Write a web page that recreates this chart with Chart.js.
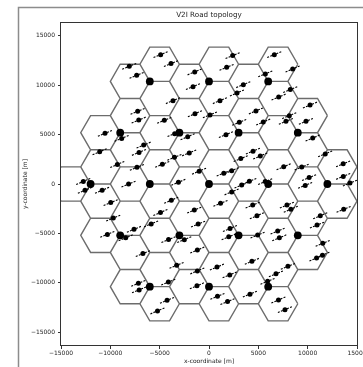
<!DOCTYPE html>
<html>
<head>
<meta charset="utf-8">
<script src="https://cdn.jsdelivr.net/npm/chart.js@4.4.1/dist/chart.umd.min.js"></script>
<style>
html, body { margin: 0; padding: 0; background: #fff; }
#wrap { position: relative; width: 363px; height: 367px; }
</style>
</head>
<body>
<div id="wrap"><canvas id="c" width="363" height="367"></canvas></div>
<script>
// Base station sites (tri-sector), metres
const siteX = [-12000, -6000, 0, 6000, 12000,
               -9000, -3000, 3000, 9000,
               -9000, -3000, 3000, 9000,
               -6000, 0, 6000,
               -6000, 0, 6000];
const siteY = [0, 0, 0, 0, 0,
               5196, 5196, 5196, 5196,
               -5196, -5196, -5196, -5196,
               10392, 10392, 10392,
               -10392, -10392, -10392];
// Sector boresight angles (deg) and hexagonal cell radius (m)
const sectorAngles = [60, 180, 300];
const cellRadius = 2000;

// Vehicle positions, metres
const vehicleX = [
  -4900, -3850, -8080, -7330, -1450, -1620, 2400, 1790, 6620, 8480,
  5710, 3480, 2840, 1110, 8240, 7060, 10240, -3650,
  -7230, -7120, -4530, -1420, 100, 4760, 5500, 3070, 8140, 7800,
  9830, -10540, -8850, -3480, -2160, 1720, 10510, -6620, -7090, -11080,
  -3500, -2000, 4460, 5200, 3220, 11780, 13600,
  -9290, -7300, -4730, -1000, 1500, 2300, 7570, 9400, 13610, 10150,
  4090, 5700, -12740, -8150, -3100, 14290, 9750,
  -12570, -10830, -9960, -9700, -10300, -8440, -7600, -5860, -3820, -4920,
  -4100, -2500, -1100, -1490, -1180, -6700, -3280, -1180, -7160, -7080,
  -4120, -4250, -5220, -1220, 2300, 3310, 1170, 2130, 2000, 4930,
  4430, 4860, 6960, 7130, 7900, 8300, 11280, 10950, 13650, 11530,
  10900, 11500, 4350, 810, 2100, 6790, 8000, 5940, 860, 1880,
  4150, 7040, 7700
];
const vehicleY = [
  13100, 12190, 11920, 11010, 11350, 9860, 13000, 11820, 13100, 11650,
  11150, 10060, 9220, 8440, 9560, 8810, 8000, 8440,
  7360, 6480, 6450, 7120, 7000, 7400, 6280, 6250, 6920, 6350,
  6350, 5130, 4620, 5100, 4790, 5000, 4660, 3950, 3200, 3270,
  2700, 3150, 3330, 2840, 2580, 3050, 2050,
  1980, 1690, 1990, 1300, 1100, 1350, 1750, 1720, 770, 650,
  270, 250, 260, 0, 180, 100, -140,
  -630, -630, -1880, -3450, -5100, -5440, -4580, -4040, -1640, -2880,
  -5620, -5630, -4050, -2640, -6680, -7040, -8230, -8800, -10050, -10720,
  -9930, -11770, -12850, -10300, -800, -100, -1950, -4500, -5340, -5170,
  -2130, -3210, -4760, -5440, -2130, -2550, -3210, -4160, -2560, -6000,
  -7500, -7200, -7820, -8400, -9200, -9090, -8330, -9850, -11370, -11900,
  -11150, -11740, -12720
];
// Heading of every vehicle's road segment (deg) and half length of its track (m)
const headingDeg = 22.6;
const trackHalfLength = 780;

const xTicks = [-15000, -10000, -5000, 0, 5000, 10000, 15000];
const yTicks = [-15000, -10000, -5000, 0, 5000, 10000, 15000];

// Hexagon outlines, one closed ring per sector, separated by gaps
const hexPoints = [];
siteX.forEach((sx, i) => {
  const sy = siteY[i];
  sectorAngles.forEach(a => {
    const r = a * Math.PI / 180;
    const cx = sx + cellRadius * Math.cos(r);
    const cy = sy + cellRadius * Math.sin(r);
    for (let k = 0; k <= 6; k++) {
      const t = k * Math.PI / 3;
      hexPoints.push({ x: cx + cellRadius * Math.cos(t), y: cy + cellRadius * Math.sin(t) });
    }
    hexPoints.push({ x: cx, y: NaN });
  });
});

// Short dashed track through each vehicle along its heading
const hr = headingDeg * Math.PI / 180;
const hx = trackHalfLength * Math.cos(hr);
const hy = trackHalfLength * Math.sin(hr);
const trackPoints = [];
vehicleX.forEach((vx, i) => {
  const vy = vehicleY[i];
  trackPoints.push({ x: vx - hx, y: vy - hy }, { x: vx + hx, y: vy + hy }, { x: vx, y: NaN });
});

const vehiclePoints = vehicleX.map((vx, i) => ({ x: vx, y: vehicleY[i] }));
const sitePoints = siteX.map((sx, i) => ({ x: sx, y: siteY[i] }));

const fmt = v => (v < 0 ? '\u2212' + Math.abs(v) : String(v));
const FONT = 'DejaVu Sans';

// Figure frame and the four axes spines
const framePlugin = {
  id: 'frame',
  beforeDraw(chart) {
    const ctx = chart.ctx;
    ctx.save();
    ctx.fillStyle = '#fff';
    ctx.fillRect(0, 0, chart.width, chart.height);
    ctx.strokeStyle = '#8c8c8c';
    ctx.lineWidth = 1.5;
    ctx.beginPath();
    ctx.moveTo(18.5, chart.height);
    ctx.lineTo(18.5, 7.5);
    ctx.lineTo(chart.width, 7.5);
    ctx.stroke();
    ctx.restore();
  },
  afterDatasetsDraw(chart) {
    const { ctx, chartArea: a } = chart;
    ctx.save();
    ctx.strokeStyle = '#333';
    ctx.lineWidth = 1;
    ctx.strokeRect(Math.round(a.left) - 0.5, Math.round(a.top) + 0.5,
                   Math.round(a.right - a.left) + 1, Math.round(a.bottom - a.top) - 1);
    ctx.restore();
  }
};

new Chart(document.getElementById('c'), {
  type: 'scatter',
  data: {
    datasets: [
      { type: 'scatter', data: sitePoints, pointRadius: 3.9, pointHoverRadius: 3.9,
        backgroundColor: '#000', borderWidth: 0 },
      { type: 'scatter', data: vehiclePoints, pointRadius: 2.5, pointHoverRadius: 2.5,
        backgroundColor: '#000', borderWidth: 0 },
      { type: 'line', data: trackPoints, showLine: true, spanGaps: false, fill: false,
        borderColor: '#000', borderWidth: 1.1, borderDash: [2, 1.3], pointRadius: 0, tension: 0 },
      { type: 'line', data: hexPoints, showLine: true, spanGaps: false, fill: false,
        borderColor: '#6c6c6c', borderWidth: 1.4, pointRadius: 0, tension: 0 }
    ]
  },
  options: {
    responsive: false,
    animation: false,
    devicePixelRatio: 1,
    events: [],
    layout: { padding: { left: 0, right: 6, top: 0, bottom: 0 } },
    plugins: {
      legend: { display: false },
      tooltip: { enabled: false },
      title: {
        display: true,
        text: 'V2I Road topology',
        fullSize: false,
        color: '#222',
        font: { family: FONT, size: 7.2, weight: 'normal' },
        padding: { top: 10.6, bottom: 2.8 }
      }
    },
    scales: {
      x: {
        type: 'linear', min: -15000, max: 15000,
        afterBuildTicks: s => { s.ticks = xTicks.map(v => ({ value: v })); },
        afterFit: s => { s.height = 21; s.paddingLeft = 0; s.paddingRight = 0; },
        ticks: { font: { family: FONT, size: 6 }, color: '#222', padding: 1,
                 maxRotation: 0, autoSkip: false, callback: v => fmt(v) },
        grid: { display: true, drawOnChartArea: false, drawTicks: true, tickLength: 3, tickColor: '#333' },
        border: { display: false },
        title: { display: true, text: 'x-coordinate [m]', color: '#222',
                 font: { family: FONT, size: 6 }, padding: { top: 0, bottom: 2.4 } }
      },
      y: {
        type: 'linear', min: -16400, max: 16400,
        afterBuildTicks: s => { s.ticks = yTicks.map(v => ({ value: v })); },
        afterFit: s => { s.width = 61; s.paddingTop = 0; s.paddingBottom = 0; },
        ticks: { font: { family: FONT, size: 6 }, color: '#222', padding: 3,
                 autoSkip: false, callback: v => fmt(v) },
        grid: { display: true, drawOnChartArea: false, drawTicks: true, tickLength: 3, tickColor: '#333' },
        border: { display: false },
        title: { display: true, text: 'y-coordinate [m]', color: '#222',
                 font: { family: FONT, size: 6 }, padding: { top: 21.4, bottom: 0 } }
      }
    }
  },
  plugins: [framePlugin]
});
</script>
</body>
</html>
